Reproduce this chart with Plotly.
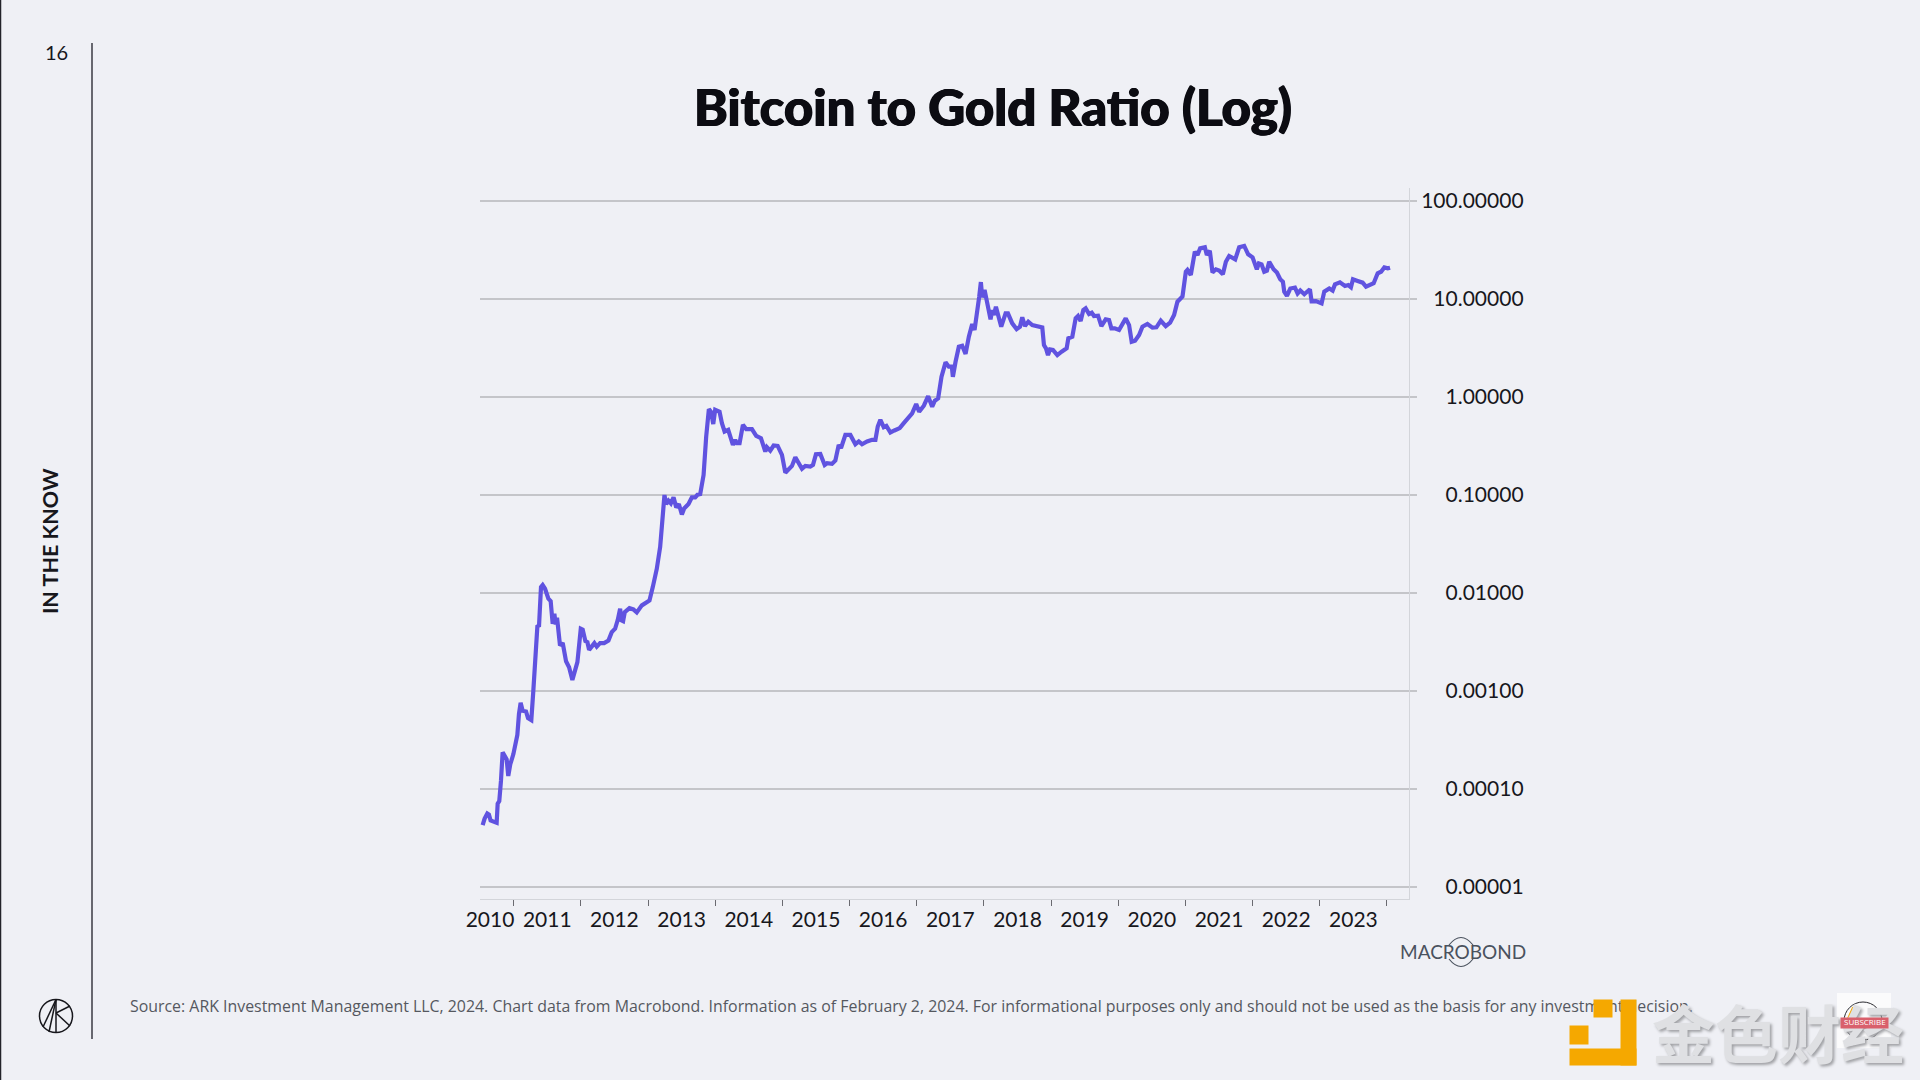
"""
Bitcoin to Gold Ratio (Log) slide
"""
import plotly.graph_objects as go

# year as a decimal, ratio
years = [
    2010.538, 2010.568, 2010.608, 2010.632, 2010.657, 2010.697, 2010.747, 2010.762, 2010.786, 2010.811,
    2010.836, 2010.866, 2010.896, 2010.92, 2010.95, 2010.995, 2011.025, 2011.055, 2011.079, 2011.104,
    2011.134, 2011.184, 2011.214, 2011.263, 2011.293, 2011.323, 2011.353, 2011.378, 2011.407, 2011.432,
    2011.467, 2011.517, 2011.551, 2011.581, 2011.606, 2011.626, 2011.646, 2011.69, 2011.73, 2011.78,
    2011.825, 2011.874, 2011.914, 2011.949, 2011.999, 2012.028, 2012.068, 2012.098, 2012.123, 2012.162,
    2012.202, 2012.237, 2012.287, 2012.346, 2012.411, 2012.46, 2012.51, 2012.55, 2012.585, 2012.605,
    2012.629, 2012.654, 2012.724, 2012.783, 2012.833, 2012.908, 2012.957, 2013.022, 2013.071, 2013.131,
    2013.181, 2013.211, 2013.245, 2013.27, 2013.305, 2013.34, 2013.38, 2013.42, 2013.459, 2013.504,
    2013.538, 2013.603, 2013.653, 2013.702, 2013.737, 2013.777, 2013.827, 2013.866, 2013.906, 2013.94,
    2013.971, 2014.0, 2014.065, 2014.1, 2014.14, 2014.194, 2014.264, 2014.298, 2014.323, 2014.363,
    2014.413, 2014.462, 2014.547, 2014.611, 2014.681, 2014.746, 2014.77, 2014.82, 2014.87, 2014.93,
    2014.994, 2015.044, 2015.093, 2015.143, 2015.193, 2015.243, 2015.292, 2015.342, 2015.416, 2015.456,
    2015.5, 2015.565, 2015.63, 2015.665, 2015.739, 2015.789, 2015.839, 2015.873, 2015.938, 2016.012,
    2016.087, 2016.137, 2016.186, 2016.261, 2016.335, 2016.385, 2016.42, 2016.459, 2016.509, 2016.549,
    2016.608, 2016.668, 2016.747, 2016.807, 2016.857, 2016.932, 2016.992, 2017.036, 2017.106, 2017.17,
    2017.23, 2017.27, 2017.319, 2017.369, 2017.429, 2017.478, 2017.523, 2017.538, 2017.578, 2017.627,
    2017.677, 2017.727, 2017.776, 2017.826, 2017.861, 2017.901, 2017.93, 2017.955, 2017.975, 2018.01,
    2018.05, 2018.099, 2018.124, 2018.149, 2018.179, 2018.224, 2018.258, 2018.323, 2018.358, 2018.422,
    2018.487, 2018.537, 2018.571, 2018.611, 2018.661, 2018.72, 2018.795, 2018.869, 2018.894, 2018.924,
    2018.954, 2018.984, 2019.028, 2019.093, 2019.157, 2019.232, 2019.257, 2019.316, 2019.366, 2019.401,
    2019.44, 2019.48, 2019.515, 2019.565, 2019.605, 2019.639, 2019.699, 2019.749, 2019.813, 2019.863,
    2019.898, 2019.947, 2020.012, 2020.062, 2020.111, 2020.161, 2020.2, 2020.25, 2020.31, 2020.36,
    2020.434, 2020.509, 2020.568, 2020.633, 2020.707, 2020.772, 2020.831, 2020.881, 2020.956, 2021.006,
    2021.03, 2021.08, 2021.14, 2021.18, 2021.219, 2021.289, 2021.319, 2021.363, 2021.403, 2021.453,
    2021.502, 2021.557, 2021.602, 2021.651, 2021.741, 2021.8, 2021.875, 2021.934, 2021.999, 2022.063,
    2022.093, 2022.133, 2022.173, 2022.213, 2022.247, 2022.312, 2022.362, 2022.411, 2022.451, 2022.471,
    2022.511, 2022.561, 2022.63, 2022.67, 2022.71, 2022.769, 2022.853, 2022.878, 2022.942, 2023.027,
    2023.067, 2023.141, 2023.191, 2023.226, 2023.3, 2023.375, 2023.425, 2023.464, 2023.494, 2023.564,
    2023.638, 2023.688, 2023.772, 2023.802, 2023.862, 2023.912, 2023.961, 2024.011, 2024.046,
]
ratio = [
    4.28e-5, 5.0e-5, 5.64e-5, 5.5e-5, 4.78e-5, 4.67e-5, 4.52e-5, 7.08e-5, 7.53e-5, 1.21e-4,
    2.37e-4, 2.18e-4, 2.01e-4, 1.36e-4, 1.79e-4, 2.26e-4, 2.86e-4, 3.57e-4, 5.82e-4, 7.6e-4,
    6.3e-4, 6.19e-4, 5.3e-4, 5.05e-4, 1.01e-3, 2.21e-3, 4.56e-3, 4.67e-3, 0.0115, 0.01208,
    0.01107, 8.75e-3, 8.28e-3, 4.85e-3, 6.14e-3, 4.78e-3, 5.59e-3, 2.91e-3, 3.1e-3, 2.01e-3,
    1.75e-3, 1.3e-3, 1.64e-3, 1.97e-3, 4.32e-3, 4.22e-3, 3.23e-3, 3.15e-3, 2.63e-3, 2.84e-3,
    3.08e-3, 2.84e-3, 3.08e-3, 3.08e-3, 3.27e-3, 3.99e-3, 4.32e-3, 5.33e-3, 6.91e-3, 5.25e-3,
    5.16e-3, 6.38e-3, 7.01e-3, 6.81e-3, 6.34e-3, 7.48e-3, 7.9e-3, 8.41e-3, 0.0115, 0.0177,
    0.0296, 0.0513, 0.1, 0.0809, 0.0875, 0.0822, 0.0946, 0.0748, 0.0809, 0.0634,
    0.073, 0.0809, 0.0946, 0.0946, 0.1007, 0.1023, 0.16, 0.395, 0.753, 0.7,
    0.53, 0.741, 0.708, 0.542, 0.445, 0.463, 0.325, 0.366, 0.338, 0.338,
    0.521, 0.47, 0.47, 0.402, 0.38, 0.278, 0.308, 0.284, 0.32, 0.317,
    0.257, 0.169, 0.18, 0.198, 0.243, 0.208, 0.185, 0.198, 0.195, 0.203,
    0.261, 0.263, 0.203, 0.211, 0.208, 0.225, 0.325, 0.301, 0.411, 0.411,
    0.33, 0.352, 0.33, 0.352, 0.366, 0.366, 0.501, 0.586, 0.493, 0.508,
    0.435, 0.456, 0.482, 0.542, 0.597, 0.681, 0.849, 0.708, 0.816, 1.02,
    0.797, 0.918, 0.969, 1.61, 2.26, 2.04, 2.04, 1.61, 2.29, 3.26,
    3.34, 2.75, 4.13, 5.56, 4.83, 7.14, 10.56, 14.9, 10.4, 12.4,
    9.03, 6.2, 7.72, 6.87, 8.35, 6.11, 5.22, 7.14, 7.14, 5.65,
    4.94, 5.22, 6.5, 5.3, 5.87, 5.43, 5.3, 5.14, 3.39, 3.14,
    2.68, 3.06, 3.02, 2.68, 2.9, 3.14, 3.97, 4.13, 6.35, 6.71,
    5.97, 7.72, 8.03, 7.03, 7.26, 6.71, 6.76, 5.3, 6.2, 6.11,
    5.02, 5.02, 4.83, 5.65, 6.35, 5.43, 3.67, 3.76, 4.29, 5.22,
    5.56, 5.1, 5.14, 6.01, 5.3, 5.74, 6.87, 9.4, 10.6, 19.0,
    19.8, 17.6, 30.4, 28.1, 32.9, 33.7, 28.1, 31.1, 18.7, 20.1,
    19.5, 17.9, 24.0, 27.5, 25.4, 33.7, 34.8, 28.6, 26.6, 20.1,
    23.1, 22.6, 19.0, 19.5, 24.0, 20.1, 18.6, 15.9, 15.0, 11.9,
    10.8, 12.8, 13.1, 11.4, 12.2, 11.2, 12.6, 9.47, 9.54, 9.03,
    11.9, 12.8, 12.2, 14.1, 14.8, 13.6, 13.9, 13.2, 15.9, 15.3,
    14.7, 13.4, 14.5, 14.5, 18.3, 19.0, 21.0, 20.6, 20.9,
]

year_labels = ["2010", "2011", "2012", "2013", "2014", "2015", "2016",
               "2017", "2018", "2019", "2020", "2021", "2022", "2023"]
ratio_ticks = [100, 10, 1, 0.1, 0.01, 0.001, 0.0001, 0.00001]
ratio_labels = ["100.00000", "10.00000", "1.00000", "0.10000",
                "0.01000", "0.00100", "0.00010", "0.00001"]

TITLE = "Bitcoin to Gold Ratio (Log)"
SOURCE = ("Source: ARK Investment Management LLC, 2024. Chart data from Macrobond. "
          "Information as of February 2, 2024. For informational purposes only and "
          "should not be used as the basis for any investment decision.")

BG = "#eff0f5"
GRID = "#c4c5c9"
INK = "#17171c"
ORANGE = "#f5a800"

# plot area on the page, pixels
LEFT, RIGHT, TOP, BOTTOM = 480, 1409, 188, 899


def px(x):
    return (x - LEFT) / (RIGHT - LEFT)


def py(y):
    return (BOTTOM - y) / (BOTTOM - TOP)


def text(x, y, label, size, color=INK, family="Lato", xanchor="center", **kwargs):
    """Page text placed in pixels."""
    font = dict(family=family, size=size, color=color)
    font.update(kwargs.pop("font", {}))
    fig.add_annotation(x=px(x), y=py(y), xref="paper", yref="paper", text=label,
                       xanchor=xanchor, yanchor="middle", showarrow=False, font=font, **kwargs)


def block(x0, y0, x1, y1, color):
    """Solid block as an annotation so it sits above the footer text."""
    fig.add_annotation(x=px(x0), y=py(y0), xref="paper", yref="paper", text=" ",
                       xanchor="left", yanchor="top", showarrow=False, borderpad=0,
                       width=x1 - x0, height=y1 - y0, bgcolor=color)


def line(x0, y0, x1, y1, color=INK, width=1.5):
    fig.add_shape(type="line", xref="paper", yref="paper", x0=px(x0), y0=py(y0),
                  x1=px(x1), y1=py(y1), line=dict(color=color, width=width))


def circle(cx, cy, r, color=INK, width=1.5):
    fig.add_shape(type="circle", xref="paper", yref="paper", x0=px(cx - r), y0=py(cy - r),
                  x1=px(cx + r), y1=py(cy + r), line=dict(color=color, width=width))


fig = go.Figure(go.Scatter(x=years, y=ratio, mode="lines",
                           line=dict(color="#6053e0", width=4.2), showlegend=False))

fig.update_layout(
    width=1920, height=1080,
    margin=dict(l=LEFT, r=1920 - RIGHT, t=TOP, b=1080 - BOTTOM),
    paper_bgcolor=BG, plot_bgcolor=BG,
    title=dict(text=TITLE, x=993 / 1920, xanchor="center", y=1 - 108 / 1080, yanchor="middle",
               font=dict(family="Lato Black, Lato", size=51, color="#0c0c12", weight=900,
                         shadow="0.7px 0 0 #0c0c12, -0.7px 0 0 #0c0c12")),
)
fig.update_xaxes(
    range=[2010.499, 2024.328], showgrid=False, zeroline=False,
    showline=True, linecolor="#d3d5da", linewidth=1,
    tickvals=[2010.648 if lab == "2010" else int(lab) + 0.5 for lab in year_labels],
    ticktext=year_labels, ticks="", ticklen=0, ticklabelstandoff=2,
    tickfont=dict(family="Lato", size=21, color=INK),
    minor=dict(tick0=2011, dtick=1, ticks="outside", ticklen=6, tickwidth=1.2,
               tickcolor="#6a6a70", showgrid=False),
)
fig.update_yaxes(
    type="log", range=[-5.122, 2.133], side="right", zeroline=False,
    showgrid=True, gridcolor=GRID, gridwidth=1.5,
    showline=True, linecolor="#d3d5da", linewidth=1,
    tickvals=ratio_ticks,
    # figure spaces keep the right-hand labels flush on their right edge
    ticktext=["\u2007" * (9 - len(lab)) + lab for lab in ratio_labels],
    ticks="outside", ticklen=7, tickwidth=1.5, tickcolor=GRID,
    tickfont=dict(family="Lato", size=21, color=INK),
)

# slide furniture
line(0.5, 0, 0.5, 1080, color="#23232a", width=1.5)
line(92, 43, 92, 1039, color="#3a3a42", width=1.5)
text(56, 52, "16", 20)
text(50, 541, "IN THE KNOW", 21.5, textangle=-90, font=dict(weight=700))

# ARK mark
circle(56, 1016, 16.5)
line(56, 999.5, 56, 1032.5)
line(56, 999.5, 43, 1027)
line(56, 999.5, 49, 1032)
line(56, 1013, 70, 1006)
line(56, 1013, 70, 1026)

# Macrobond mark
text(1462.5, 952, "MACROBOND", 19, color="#4a525e")
fig.add_shape(type="path", xref="paper", yref="paper", line=dict(color="#4a525e", width=1.2),
              path=f"M {px(1449)} {py(945)} Q {px(1461)} {py(930)} {px(1473)} {py(945)} "
                   f"M {px(1449)} {py(959)} Q {px(1461)} {py(974)} {px(1473)} {py(959)}")

text(128, 1006, SOURCE, 15.9, color="#55585f", family="Open Sans", xanchor="left")

# watermark
fig.add_shape(type="rect", xref="paper", yref="paper", x0=px(1837), y0=py(993), x1=px(1891), y1=py(1048),
              line=dict(width=0), fillcolor="#fbfbfc")
circle(1863, 1021, 19, color="#2a2a30", width=1)
line(1855, 1008, 1846, 1028, color=ORANGE, width=6)
block(1593, 999, 1611, 1016, ORANGE)
block(1569, 1025, 1587, 1043, ORANGE)
block(1620, 999, 1635, 1064, ORANGE)
block(1569, 1048, 1635, 1064, ORANGE)
text(1778, 1030, "金色财经", 63, color="#dfe0e3", family="Noto Sans CJK SC",
     font=dict(weight=700, shadow="2px 2px 3px #a0a1a5"))
block(1840, 1017, 1887, 1027, "#d9606c")
text(1865, 1022, "SUBSCRIBE", 8, color="#ffffff", family="Open Sans")

# drop the browser's default page margin so the slide fills the window
fig.write_html("out.html", config={"displayModeBar": False},
               post_script="document.body.style.margin = '0';")
